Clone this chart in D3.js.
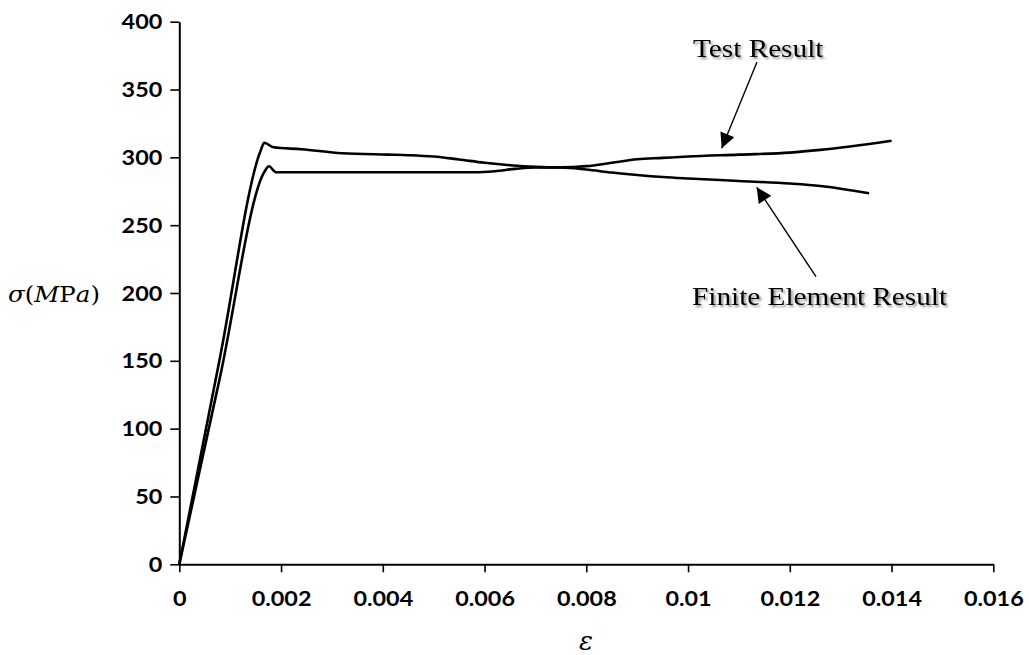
<!DOCTYPE html>
<html>
<head>
<meta charset="utf-8">
<script src="https://cdn.jsdelivr.net/npm/d3@7"></script>
<style>
  html, body { margin: 0; padding: 0; background: #fff; }
  svg { display: block; }
</style>
</head>
<body>
<svg id="chart" width="1029" height="655"></svg>
<script>
// Strain (ε) vs stress σ (MPa)
const testStrain   = [0, 0.0008, 0.0016, 0.00167, 0.00185, 0.0024, 0.0032, 0.0041, 0.0045, 0.005, 0.0055, 0.006, 0.0065, 0.007, 0.0075, 0.008, 0.0085, 0.009, 0.0095, 0.01, 0.011, 0.012, 0.0126, 0.014];
const testStress   = [0, 152.5,  305,    310.8,   307.4,   306,    303,    302,    301.6,  300.6, 298.4,  296,   294.2,  293,   292.6,  293.5, 296,    298.6, 299.6,  300.6, 302,   303.5, 305.5,  312.3];

const feStrain     = [0, 0.0008, 0.00168, 0.00176, 0.0019, 0.0058, 0.0062, 0.0066, 0.007, 0.0075, 0.008, 0.0085, 0.009, 0.0095, 0.01, 0.011, 0.012, 0.0126, 0.01356];
const feStress     = [0, 138,    289.8,   293.4,   289,    289,    289.8,  291.5,  292.6, 292.5,  291,   288.8,  287,   285.5,  284.4, 282.6, 280.7, 278.9,  273.5];

const xTickValues  = [0, 0.002, 0.004, 0.006, 0.008, 0.01, 0.012, 0.014, 0.016];
const xTickLabels  = ["0", "0.002", "0.004", "0.006", "0.008", "0.01", "0.012", "0.014", "0.016"];
const yTickValues  = [0, 50, 100, 150, 200, 250, 300, 350, 400];

const svg = d3.select("#chart");

const x = d3.scaleLinear().domain([0, 0.016]).range([179.3, 993.3]);
const y = d3.scaleLinear().domain([0, 400]).range([564.3, 21.7]);

// glyph widening used for all text
const STRETCH = 1.17;
function widen(sel) {
  sel.each(function () {
    const w = this.getComputedTextLength();
    d3.select(this).attr("textLength", w * STRETCH).attr("lengthAdjust", "spacingAndGlyphs");
  });
}

const defs = svg.append("defs");
const shadow = defs.append("filter").attr("id", "soft-shadow")
  .attr("x", "-10%").attr("y", "-30%").attr("width", "130%").attr("height", "180%");
shadow.append("feDropShadow").attr("dx", 2).attr("dy", 2).attr("stdDeviation", 1.2)
  .attr("flood-color", "#000").attr("flood-opacity", 0.45);
defs.append("marker").attr("id", "head")
  .attr("viewBox", "0 0 10 10").attr("refX", 10).attr("refY", 5)
  .attr("markerUnits", "userSpaceOnUse").attr("markerWidth", 17).attr("markerHeight", 15)
  .attr("orient", "auto")
  .append("path").attr("d", "M0,0 L10,5 L0,10 Z").attr("fill", "#000");

// Axes
const xAxis = svg.append("g").attr("transform", `translate(0,${y(0)})`)
  .call(d3.axisBottom(x).tickValues(xTickValues)
    .tickFormat((d, i) => xTickLabels[i]).tickSize(8).tickSizeOuter(0).tickPadding(20));
const yAxis = svg.append("g").attr("transform", `translate(${x(0)},0)`)
  .call(d3.axisLeft(y).tickValues(yTickValues).tickSize(9).tickSizeOuter(0).tickPadding(8));

[xAxis, yAxis].forEach(g => {
  g.select(".domain").attr("stroke", "#000").attr("stroke-width", 2);
  g.selectAll(".tick line").attr("stroke", "#000").attr("stroke-width", 1.6);
  g.selectAll(".tick text").attr("fill", "#000")
    .style("font-family", "Lato, 'Open Sans', sans-serif")
    .style("font-weight", "bold").style("font-size", "20px");
});
xAxis.selectAll(".tick text").attr("dy", "0.71em");
yAxis.selectAll(".tick text").attr("dy", "0.35em");
widen(xAxis.selectAll(".tick text"));
widen(yAxis.selectAll(".tick text"));

// Curves
const line = d3.line().x(d => x(d[0])).y(d => y(d[1])).curve(d3.curveMonotoneX);
const testPts = testStrain.map((e, i) => [e, testStress[i]]);
const fePts = feStrain.map((e, i) => [e, feStress[i]]);

svg.append("path").datum(testPts).attr("d", line)
  .attr("fill", "none").attr("stroke", "#000").attr("stroke-width", 2.6)
  .attr("stroke-linejoin", "round");
svg.append("path").datum(fePts).attr("d", line)
  .attr("fill", "none").attr("stroke", "#000").attr("stroke-width", 2.6)
  .attr("stroke-linejoin", "round");

// Axis titles
const yTitle = svg.append("text").attr("x", 8).attr("y", 302)
  .style("font-family", "'DejaVu Serif', 'Liberation Serif', serif").style("font-size", "22px")
  .attr("fill", "#000");
[["σ", true], ["(", false], ["M", true], ["P", false], ["a", true], [")", false]].forEach(([t, it]) => {
  yTitle.append("tspan").text(t).style("font-style", it ? "italic" : "normal");
});
yTitle.attr("textLength", 92).attr("lengthAdjust", "spacingAndGlyphs");

svg.append("text").attr("x", 586).attr("y", 650).attr("text-anchor", "middle")
  .style("font-family", "'DejaVu Serif', 'Liberation Serif', serif").style("font-size", "26px")
  .style("font-style", "italic").attr("fill", "#000").text("ε");

// Annotations
const note = (txt, xp, yp) => svg.append("text").attr("x", xp).attr("y", yp)
  .style("font-family", "'Liberation Serif', 'Times New Roman', serif").style("font-size", "25px")
  .attr("fill", "#000").attr("filter", "url(#soft-shadow)").text(txt);
widen(note("Test Result", 693, 57));
widen(note("Finite Element Result", 692, 305));

// Leader arrows pointing at each curve
const arrows = [
  { from: [757, 62], to: [721.7, 148.3] },
  { from: [816, 276.7], to: [756.7, 187.3] }
];
svg.selectAll(".leader").data(arrows).join("line").attr("class", "leader")
  .attr("x1", d => d.from[0]).attr("y1", d => d.from[1])
  .attr("x2", d => d.to[0]).attr("y2", d => d.to[1])
  .attr("stroke", "#000").attr("stroke-width", 1.4).attr("marker-end", "url(#head)");
</script>
</body>
</html>
